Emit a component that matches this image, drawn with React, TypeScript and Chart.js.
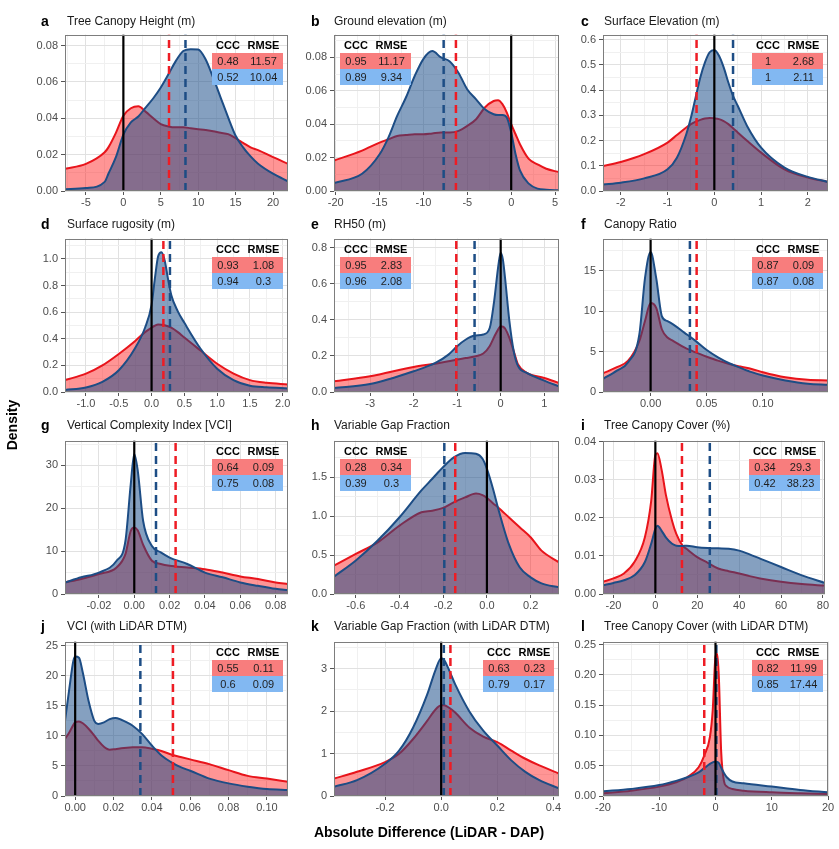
import React, { useEffect, useRef } from "react";
import { Chart, registerables } from "chart.js";
Chart.register(...registerables);

const FONT = '"Liberation Sans", Arial, Helvetica, sans-serif';
const RED_LINE = "#e8141b";
const RED_FILL = "rgba(255, 20, 20, 0.45)";
const BLUE_LINE = "#1d4d85";
const BLUE_FILL = "rgba(22, 72, 135, 0.52)";

// ---------- data ----------
const panelLetters = ["a", "b", "c", "d", "e", "f", "g", "h", "i", "j", "k", "l"];
const panelTitles = [
  "Tree Canopy Height (m)",
  "Ground elevation (m)",
  "Surface Elevation (m)",
  "Surface rugosity (m)",
  "RH50 (m)",
  "Canopy Ratio",
  "Vertical Complexity Index [VCI]",
  "Variable Gap Fraction",
  "Tree Canopy Cover (%)",
  "VCI (with LiDAR DTM)",
  "Variable Gap Fraction (with LiDAR DTM)",
  "Tree Canopy Cover (with LiDAR DTM)",
];

const aX = [-7.8, -5, -2.5, -2, -1, 0, 1, 2, 3, 4, 5, 6, 7, 8, 9, 10, 11, 12, 13, 14, 15, 16, 17, 18, 20, 22];
const aRed = [0.0122, 0.0149, 0.0213, 0.024, 0.032, 0.0414, 0.0455, 0.0466, 0.0435, 0.04, 0.0368, 0.0355, 0.035, 0.035, 0.0345, 0.034, 0.0335, 0.0328, 0.032, 0.0313, 0.029, 0.0265, 0.024, 0.0225, 0.0186, 0.015];
const aBlue = [0.001, 0.0016, 0.005, 0.0095, 0.0186, 0.031, 0.0377, 0.041, 0.046, 0.051, 0.0569, 0.064, 0.0714, 0.077, 0.078, 0.0778, 0.0723, 0.0623, 0.0514, 0.0405, 0.0304, 0.024, 0.019, 0.015, 0.0095, 0.0053];

const bX = [-20.2, -17, -15, -14, -13, -12, -11, -10, -9, -8, -7, -6, -5, -4, -3, -2, -1.5, -1, -0.5, 0, 0.5, 1, 2, 3, 4, 5.45];
const bRed = [0.0182, 0.0242, 0.029, 0.031, 0.033, 0.0335, 0.034, 0.034, 0.0345, 0.035, 0.035, 0.036, 0.039, 0.043, 0.05, 0.0539, 0.0543, 0.052, 0.047, 0.04, 0.034, 0.028, 0.0192, 0.016, 0.0133, 0.0113];
const bBlue = [0.0048, 0.0103, 0.022, 0.032, 0.045, 0.056, 0.0689, 0.0792, 0.0838, 0.08, 0.0776, 0.0707, 0.0608, 0.0549, 0.049, 0.046, 0.0455, 0.0455, 0.044, 0.035, 0.022, 0.0123, 0.0044, 0.0014, 0.0008, 0.0004];

const cX = [-2.38, -2, -1.5, -1, -0.8, -0.6, -0.5, -0.4, -0.3, -0.2, -0.1, 0, 0.1, 0.2, 0.3, 0.4, 0.5, 0.7, 1, 1.5, 2, 2.43];
const cRed = [0.099, 0.115, 0.146, 0.192, 0.222, 0.252, 0.265, 0.275, 0.282, 0.287, 0.289, 0.288, 0.285, 0.277, 0.265, 0.249, 0.232, 0.199, 0.152, 0.086, 0.053, 0.036];
const cBlue = [0.026, 0.033, 0.05, 0.086, 0.132, 0.225, 0.291, 0.371, 0.45, 0.51, 0.55, 0.559, 0.536, 0.49, 0.43, 0.377, 0.338, 0.258, 0.172, 0.093, 0.056, 0.036];

const dX = [-1.32, -1, -0.75, -0.5, -0.25, -0.1, 0, 0.05, 0.1, 0.15, 0.2, 0.25, 0.3, 0.4, 0.5, 0.75, 1, 1.25, 1.5, 1.75, 2.08];
const dRed = [0.089, 0.138, 0.2, 0.286, 0.384, 0.45, 0.483, 0.498, 0.507, 0.506, 0.502, 0.494, 0.483, 0.45, 0.409, 0.31, 0.212, 0.138, 0.089, 0.069, 0.057];
const dBlue = [0.015, 0.034, 0.076, 0.163, 0.33, 0.483, 0.655, 0.852, 1.02, 1.05, 0.988, 0.852, 0.729, 0.606, 0.52, 0.323, 0.175, 0.089, 0.047, 0.035, 0.027];

const eX = [-3.83, -3, -2, -1.5, -1.2, -1, -0.8, -0.6, -0.4, -0.25, -0.15, -0.05, 0, 0.05, 0.1, 0.2, 0.3, 0.4, 0.6, 1, 1.34];
const eRed = [0.059, 0.087, 0.139, 0.157, 0.17, 0.18, 0.188, 0.197, 0.213, 0.255, 0.305, 0.35, 0.365, 0.362, 0.352, 0.3, 0.226, 0.152, 0.106, 0.078, 0.05];
const eBlue = [0.022, 0.044, 0.115, 0.161, 0.207, 0.254, 0.291, 0.313, 0.319, 0.356, 0.504, 0.707, 0.772, 0.735, 0.633, 0.393, 0.226, 0.143, 0.106, 0.063, 0.031];

const fX = [-0.0424, -0.03, -0.02, -0.01, -0.005, 0, 0.005, 0.01, 0.015, 0.02, 0.03, 0.04, 0.05, 0.06, 0.07, 0.08, 0.09, 0.1, 0.12, 0.14, 0.158];
const fRed = [2.32, 3.06, 3.87, 6.3, 8.76, 11.0, 10.4, 7.75, 6.73, 6.32, 5.5, 4.89, 4.36, 3.87, 3.46, 3.14, 2.85, 2.45, 1.83, 1.5, 1.43];
const fBlue = [1.63, 2.65, 3.67, 7.13, 14.06, 17.3, 14.06, 9.38, 8.76, 8.36, 7.34, 6.32, 5.18, 4.28, 3.55, 2.98, 2.45, 2.04, 1.43, 1.02, 0.9];

const gX = [-0.0392, -0.03, -0.02, -0.01, -0.005, -0.002, 0, 0.002, 0.005, 0.01, 0.015, 0.02, 0.03, 0.04, 0.05, 0.06, 0.07, 0.08, 0.087];
const gRed = [2.7, 3.5, 4.65, 6.2, 9.3, 14.7, 15.5, 14.8, 11.5, 7.75, 7.0, 6.6, 6.2, 5.8, 5.0, 4.1, 3.5, 2.7, 2.3];
const gBlue = [2.7, 3.9, 5.0, 7.75, 12.4, 25.6, 32.7, 28.7, 17.1, 11.2, 9.7, 8.5, 7.0, 5.0, 3.9, 2.7, 1.9, 1.2, 0.9];

const hX = [-0.7, -0.6, -0.5, -0.4, -0.3, -0.25, -0.2, -0.15, -0.1, -0.05, -0.02, 0, 0.03, 0.05, 0.1, 0.15, 0.2, 0.25, 0.33];
const hRed = [0.364, 0.514, 0.664, 0.879, 1.05, 1.07, 1.106, 1.18, 1.24, 1.29, 1.27, 1.234, 1.16, 1.114, 0.986, 0.857, 0.729, 0.557, 0.407];
const hBlue = [0.223, 0.43, 0.686, 0.986, 1.33, 1.48, 1.63, 1.757, 1.81, 1.8, 1.736, 1.607, 1.33, 1.114, 0.643, 0.343, 0.214, 0.137, 0.086];

const iX = [-25, -20, -15, -10, -5, -2, 0, 1, 3, 5, 8, 10, 13, 15, 20, 25, 30, 35, 40, 45, 50, 60, 70, 81];
const iRed = [0.0032, 0.0041, 0.0054, 0.0084, 0.0149, 0.0244, 0.0365, 0.037, 0.0326, 0.0261, 0.0192, 0.0158, 0.0127, 0.0118, 0.0097, 0.0082, 0.0067, 0.006, 0.0054, 0.0047, 0.0041, 0.0032, 0.0026, 0.0022];
const iBlue = [0.0023, 0.0029, 0.0036, 0.0049, 0.0084, 0.0132, 0.0171, 0.0179, 0.0166, 0.0149, 0.0132, 0.0127, 0.0126, 0.0127, 0.0123, 0.0121, 0.012, 0.0119, 0.0114, 0.0104, 0.0093, 0.0071, 0.0049, 0.0029];

const jX = [-0.0053, -0.003, -0.001, 0, 0.002, 0.004, 0.007, 0.01, 0.012, 0.015, 0.018, 0.021, 0.024, 0.027, 0.03, 0.035, 0.04, 0.045, 0.05, 0.055, 0.06, 0.07, 0.08, 0.09, 0.1, 0.111];
const jRed = [9.5, 10.6, 11.8, 12.25, 12.4, 12.1, 11.2, 10.05, 9.2, 8.2, 7.7, 7.8, 7.95, 8.05, 8.1, 8.1, 7.85, 7.5, 6.9, 6.5, 6.1, 5.3, 4.3, 3.35, 2.9, 2.36];
const jBlue = [12.5, 18.0, 22.4, 23.2, 23.0, 20.5, 15.8, 12.5, 12.0, 12.25, 12.8, 13.0, 12.7, 12.25, 11.7, 10.3, 8.4, 6.75, 5.65, 4.8, 4.2, 2.9, 2.1, 1.55, 1.15, 1.0];

const kX = [-0.382, -0.3, -0.2, -0.15, -0.1, -0.05, -0.02, 0, 0.01, 0.03, 0.05, 0.1, 0.15, 0.2, 0.25, 0.3, 0.35, 0.42];
const kRed = [0.41, 0.57, 0.8, 0.995, 1.344, 1.77, 2.04, 2.137, 2.14, 2.07, 1.966, 1.616, 1.4, 1.27, 1.07, 0.878, 0.72, 0.53];
const kBlue = [0.218, 0.373, 0.76, 1.07, 1.616, 2.39, 2.976, 3.25, 3.21, 2.94, 2.63, 2.0, 1.54, 1.19, 0.84, 0.57, 0.373, 0.18];

const lX = [-20, -15, -10, -7, -5, -3, -2, -1, -0.5, 0, 0.3, 0.6, 1, 1.5, 2, 3, 5, 10, 15, 20];
const lRed = [0.0044, 0.0088, 0.0155, 0.0226, 0.031, 0.0475, 0.0668, 0.097, 0.141, 0.23, 0.235, 0.196, 0.075, 0.025, 0.016, 0.0116, 0.0088, 0.006, 0.0044, 0.0033];
const lBlue = [0.0077, 0.0116, 0.018, 0.025, 0.031, 0.039, 0.046, 0.053, 0.0555, 0.057, 0.0565, 0.0545, 0.047, 0.038, 0.031, 0.024, 0.021, 0.0155, 0.0099, 0.006];

const xData = [aX, bX, cX, dX, eX, fX, gX, hX, iX, jX, kX, lX];
const redData = [aRed, bRed, cRed, dRed, eRed, fRed, gRed, hRed, iRed, jRed, kRed, lRed];
const blueData = [aBlue, bBlue, cBlue, dBlue, eBlue, fBlue, gBlue, hBlue, iBlue, jBlue, kBlue, lBlue];

const meanRed = [6.1, -6.3, -0.38, 0.18, -1.02, 0.041, 0.0234, -0.145, 12.7, 0.051, 0.033, -2.0];
const meanBlue = [8.3, -7.7, 0.4, 0.28, -0.6, 0.035, 0.0123, -0.195, 26.0, 0.034, 0.0095, 0.15];

const cccRed = ["0.48", "0.95", "1", "0.93", "0.95", "0.87", "0.64", "0.28", "0.34", "0.55", "0.63", "0.82"];
const rmseRed = ["11.57", "11.17", "2.68", "1.08", "2.83", "0.09", "0.09", "0.34", "29.3", "0.11", "0.23", "11.99"];
const cccBlue = ["0.52", "0.89", "1", "0.94", "0.96", "0.87", "0.75", "0.39", "0.42", "0.6", "0.79", "0.85"];
const rmseBlue = ["10.04", "9.34", "2.11", "0.3", "2.08", "0.08", "0.08", "0.3", "38.23", "0.09", "0.17", "17.44"];

const xLimits = [[-7.8, 22], [-20.2, 5.45], [-2.38, 2.43], [-1.32, 2.08], [-3.83, 1.34], [-0.0424, 0.158], [-0.0392, 0.087], [-0.7, 0.33], [-25, 81], [-0.0053, 0.111], [-0.382, 0.42], [-20, 20]];
const yLimits = [[0, 0.086], [0, 0.0937], [0, 0.62], [0, 1.153], [0, 0.85], [0, 18.95], [0, 35.8], [0, 1.97], [0, 0.0403], [0, 25.7], [0, 3.64], [0, 0.255]];

const xTickLabels = [
  ["-5", "0", "5", "10", "15", "20"],
  ["-20", "-15", "-10", "-5", "0", "5"],
  ["-2", "-1", "0", "1", "2"],
  ["-1.0", "-0.5", "0.0", "0.5", "1.0", "1.5", "2.0"],
  ["-3", "-2", "-1", "0", "1"],
  ["0.00", "0.05", "0.10"],
  ["-0.02", "0.00", "0.02", "0.04", "0.06", "0.08"],
  ["-0.6", "-0.4", "-0.2", "0.0", "0.2"],
  ["-20", "0", "20", "40", "60", "80"],
  ["0.00", "0.02", "0.04", "0.06", "0.08", "0.10"],
  ["-0.2", "0.0", "0.2", "0.4"],
  ["-20", "-10", "0", "10", "20"],
];
const yTickLabels = [
  ["0.00", "0.02", "0.04", "0.06", "0.08"],
  ["0.00", "0.02", "0.04", "0.06", "0.08"],
  ["0.0", "0.1", "0.2", "0.3", "0.4", "0.5", "0.6"],
  ["0.0", "0.2", "0.4", "0.6", "0.8", "1.0"],
  ["0.0", "0.2", "0.4", "0.6", "0.8"],
  ["0", "5", "10", "15"],
  ["0", "10", "20", "30"],
  ["0.0", "0.5", "1.0", "1.5"],
  ["0.00", "0.01", "0.02", "0.03", "0.04"],
  ["0", "5", "10", "15", "20", "25"],
  ["0", "1", "2", "3"],
  ["0.00", "0.05", "0.10", "0.15", "0.20", "0.25"],
];

// ---------- layout (positions / styles) ----------
const COL_L = [65, 334, 603];
const COL_R = [288, 559, 828];
const ROW_T = [33, 237, 439, 640];
const ROW_B = [191, 392, 594, 796];
const TITLE_Y = [21, 224, 425, 626];
const LETTER_X = [41, 311, 581];
const TITLE_X = [67, 334, 604];
const TABLE_LEFT_SIDE = [false, true, false, false, true, false, false, true, false, false, false, false];
const RIGHT_ADJ = [0, 0, 0, 0, 0, 0, 0, 0, -3, 0, 0, 0];
const YW = 62;
const XH = 24;
const PT = 8;
const PR = 14;

type TickDef = { value: number; label: string; major: boolean };

function buildTicks(labels: string[], min: number, max: number): TickDef[] {
  const majors = labels.map(Number);
  const step = majors[1] - majors[0];
  const out: TickDef[] = [];
  for (let k = -60; k <= 200; k++) {
    const v = +(majors[0] + (k * step) / 2).toFixed(10);
    if (v < min - 1e-12 || v > max + 1e-12) continue;
    const isMajor = k % 2 === 0 && k / 2 >= 0 && k / 2 < labels.length;
    out.push({ value: v, label: isMajor ? labels[k / 2] : "", major: isMajor });
  }
  return out;
}

const borderPlugin = {
  id: "panelBorder",
  afterDraw(chart: any) {
    const { ctx, chartArea: a } = chart;
    ctx.save();
    ctx.strokeStyle = "#7d7d7d";
    ctx.lineWidth = 1;
    ctx.strokeRect(Math.round(a.left) + 0.5, Math.round(a.top) + 0.5, Math.round(a.right - a.left) - 1, Math.round(a.bottom - a.top) - 1);
    ctx.restore();
  },
};

function makeScale(ticksDef: TickDef[], min: number, max: number, isX: boolean) {
  const findTick = (v: number) => {
    let best = ticksDef[0];
    let bd = Infinity;
    for (const t of ticksDef) {
      const d = Math.abs(t.value - v);
      if (d < bd) { bd = d; best = t; }
    }
    return best;
  };
  return {
    type: "linear",
    min,
    max,
    afterBuildTicks: (s: any) => {
      s.ticks = ticksDef.map((t) => ({ value: t.value }));
    },
    afterFit: (s: any) => {
      if (isX) s.height = XH;
      else s.width = YW;
    },
    border: { display: false },
    grid: {
      color: (ctx: any) => (ctx.tick && findTick(ctx.tick.value).major ? "#e1e1e1" : "#f0f0f0"),
      lineWidth: 1,
      tickLength: 4,
      tickColor: (ctx: any) => (ctx.tick && findTick(ctx.tick.value).major ? "#555555" : "rgba(0,0,0,0)"),
    },
    ticks: {
      autoSkip: false,
      maxRotation: 0,
      minRotation: 0,
      padding: isX ? 1 : 3,
      color: "#4d4d4d",
      font: { family: FONT, size: 11 },
      callback: (v: number) => findTick(v).label,
    },
  };
}

function Panel({ idx }: { idx: number }) {
  const ref = useRef<HTMLCanvasElement>(null);
  const c = idx % 3;
  const r = Math.floor(idx / 3);
  const L = COL_L[c];
  const R = COL_R[c] + RIGHT_ADJ[idx];
  const T = ROW_T[r];
  const B = ROW_B[r];
  const w = R - L + YW + PR;
  const h = B - T + PT + XH;

  useEffect(() => {
    const [xmin, xmax] = xLimits[idx];
    const [ymin, ymax] = yLimits[idx];
    const xs = xData[idx];
    const redPts = xs.map((x, i) => ({ x, y: redData[idx][i] }));
    const bluePts = xs.map((x, i) => ({ x, y: blueData[idx][i] }));
    const vline = (x: number) => [{ x, y: ymin }, { x, y: ymax }];
    const chart = new Chart(ref.current as HTMLCanvasElement, {
      type: "line",
      data: {
        datasets: [
          { data: vline(0), borderColor: "#000000", borderWidth: 2.2, pointRadius: 0, fill: false, order: 0 },
          { data: vline(meanBlue[idx]), borderColor: BLUE_LINE, borderWidth: 2.5, borderDash: [8, 5], pointRadius: 0, fill: false, order: 1 },
          { data: vline(meanRed[idx]), borderColor: "#ee1c24", borderWidth: 2.5, borderDash: [8, 5], pointRadius: 0, fill: false, order: 2 },
          { data: bluePts, borderColor: BLUE_LINE, backgroundColor: BLUE_FILL, borderWidth: 2, pointRadius: 0, fill: "origin", cubicInterpolationMode: "monotone", order: 3 },
          { data: redPts, borderColor: RED_LINE, backgroundColor: RED_FILL, borderWidth: 2, pointRadius: 0, fill: "origin", cubicInterpolationMode: "monotone", order: 4 },
        ],
      } as any,
      options: {
        responsive: false,
        maintainAspectRatio: false,
        animation: false,
        devicePixelRatio: 1,
        layout: { padding: { top: PT, right: PR, left: 0, bottom: 0 } },
        plugins: { legend: { display: false }, tooltip: { enabled: false }, title: { display: false } },
        scales: {
          x: makeScale(buildTicks(xTickLabels[idx], xmin, xmax), xmin, xmax, true),
          y: makeScale(buildTicks(yTickLabels[idx], ymin, ymax), ymin, ymax, false),
        },
      } as any,
      plugins: [borderPlugin],
    });
    return () => chart.destroy();
  }, [idx]);

  const tableW = 71;
  const tableX = TABLE_LEFT_SIDE[idx] ? L + 6 : R - 5 - tableW;
  const tableY = T + 4;
  const cell1: React.CSSProperties = { width: 32, textAlign: "center" };
  const cell2: React.CSSProperties = { width: 39, textAlign: "center" };
  const row: React.CSSProperties = { display: "flex", alignItems: "center", height: 16 };

  return (
    <>
      <canvas ref={ref} width={w} height={h} style={{ position: "absolute", left: L - YW, top: T - PT, width: w, height: h }} />
      <div style={{ position: "absolute", left: LETTER_X[c], top: TITLE_Y[r], transform: "translateY(-50%)", font: `bold 14px ${FONT}`, lineHeight: 1, color: "#000" }}>
        {panelLetters[idx]}
      </div>
      <div style={{ position: "absolute", left: TITLE_X[c], top: TITLE_Y[r], transform: "translateY(-50%)", font: `12px ${FONT}`, lineHeight: 1, color: "#1a1a1a", whiteSpace: "nowrap" }}>
        {panelTitles[idx]}
      </div>
      <div style={{ position: "absolute", left: tableX, top: tableY, width: tableW, font: `11px ${FONT}`, color: "#1f1f1f" }}>
        <div style={{ ...row, fontWeight: "bold", color: "#000" }}>
          <div style={cell1}>CCC</div>
          <div style={cell2}>RMSE</div>
        </div>
        <div style={{ ...row, background: "#f87d7d" }}>
          <div style={cell1}>{cccRed[idx]}</div>
          <div style={cell2}>{rmseRed[idx]}</div>
        </div>
        <div style={{ ...row, background: "#82b8f2" }}>
          <div style={cell1}>{cccBlue[idx]}</div>
          <div style={cell2}>{rmseBlue[idx]}</div>
        </div>
      </div>
    </>
  );
}

export default function App() {
  return (
    <div style={{ position: "absolute", left: 0, top: 0, width: 839, height: 849, overflow: "hidden", background: "#ffffff", fontFamily: FONT }}>
      {panelLetters.map((_, i) => (
        <Panel key={i} idx={i} />
      ))}
      <div style={{ position: "absolute", left: 12, top: 425, transform: "translate(-50%, -50%) rotate(-90deg)", font: `bold 14px ${FONT}`, color: "#000", whiteSpace: "nowrap" }}>
        Density
      </div>
      <div style={{ position: "absolute", left: 429, top: 832, transform: "translate(-50%, -50%)", font: `bold 14px ${FONT}`, color: "#000", whiteSpace: "nowrap" }}>
        Absolute Difference (LiDAR - DAP)
      </div>
    </div>
  );
}
